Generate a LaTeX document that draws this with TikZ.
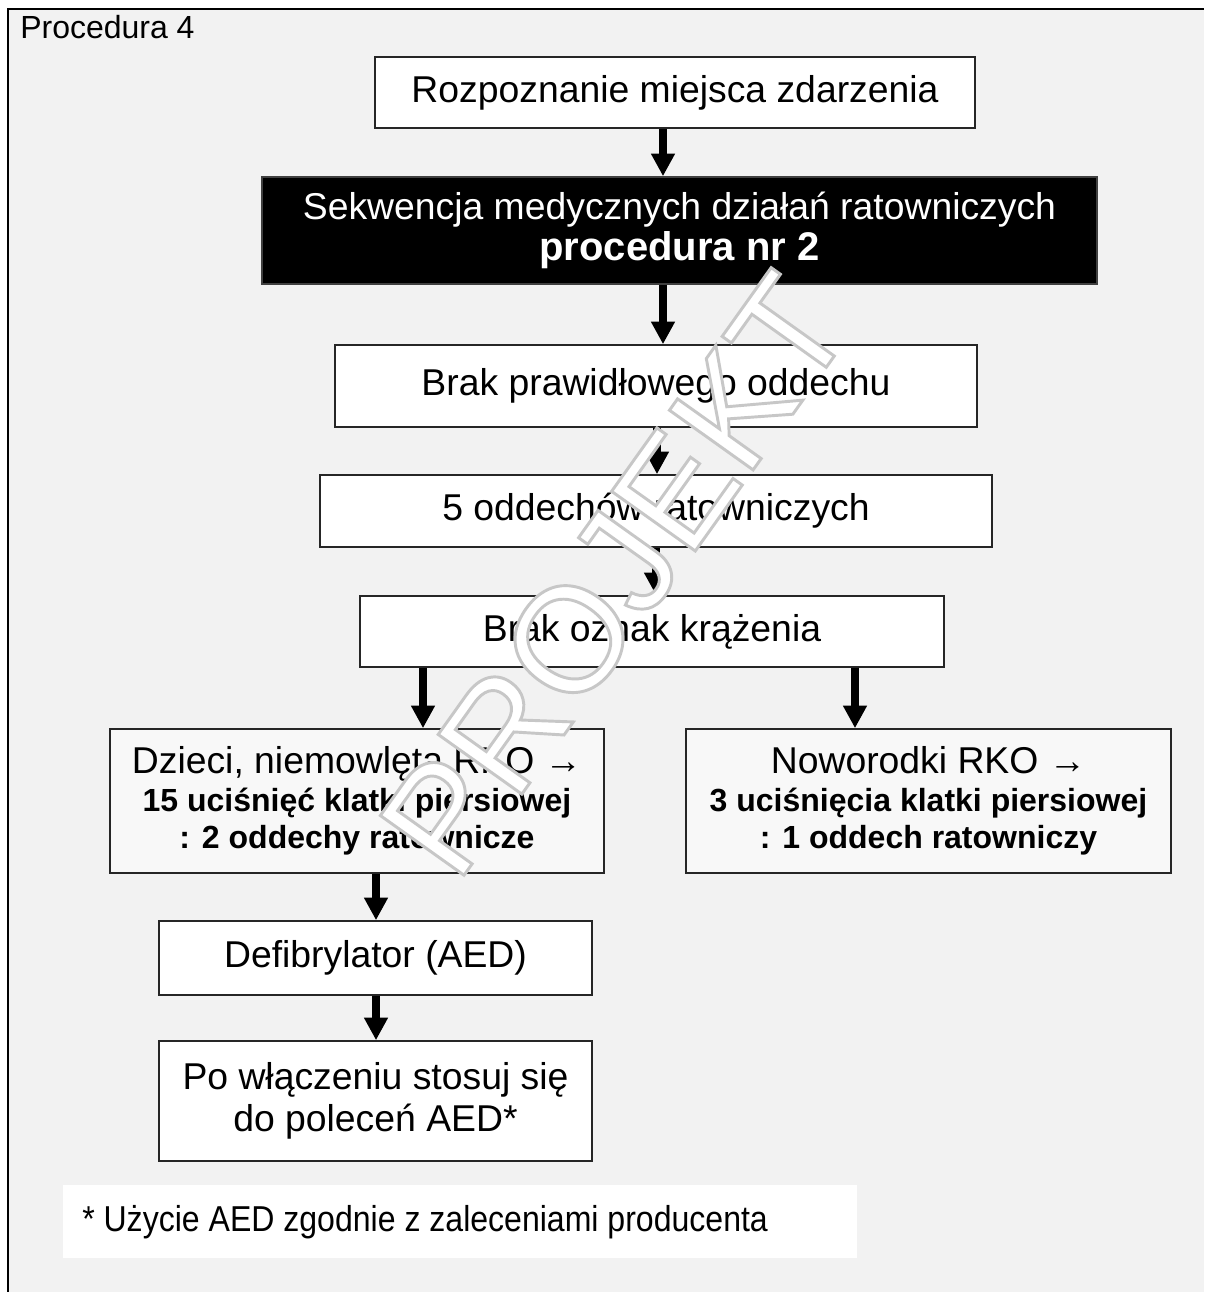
\documentclass[tikz,border=0pt]{standalone}
\usepackage{fontspec}
\setmainfont{Liberation Sans}
\newfontfamily\narrowfont[FakeStretch=0.89]{Liberation Sans}
\usetikzlibrary{arrows.meta}
\definecolor{bg}{HTML}{F2F2F2}
\definecolor{lightbox}{HTML}{F8F8F8}
\begin{document}
\begin{tikzpicture}[x=0.75pt,y=-0.75pt,
  box/.style={draw=black!85, line width=1.2pt, fill=white, inner sep=0pt, align=center,
    font=\fontsize{28pt}{31pt}\selectfont},
  arr/.style={line width=6pt, -{Triangle[length=17pt,width=17pt]}},
]
\useasboundingbox (0,0) rectangle (1204,1292);
\fill[bg] (8,9) rectangle (1204,1292);
\draw[line width=1.5pt] (8,1292) -- (8,9) -- (1204,9);

\node[anchor=base west, inner sep=0pt, font=\fontsize{24pt}{28pt}\selectfont] (title) at (20,38) {Procedura 4};

\node[box, minimum width=450pt, minimum height=53.25pt] (b1) at (675,92.5) {Rozpoznanie miejsca zdarzenia};
\node[box, fill=black, draw=black!75, text=white, minimum width=626.25pt, minimum height=80.25pt] (b2) at (679.5,230.5)
  {Sekwencja medycznych działań ratowniczych\\{\bfseries\fontsize{30pt}{31pt}\selectfont procedura nr 2}};
\node[box, minimum width=481.5pt, minimum height=61.5pt] (b3) at (656,386) {Brak prawidłowego oddechu};
\node[box, minimum width=504pt, minimum height=54pt] (b4) at (656,511) {5 oddechów ratowniczych};
\node[box, minimum width=438pt, minimum height=53.25pt] (b5) at (652,631.5) {Brak oznak krążenia};
\node[box, fill=lightbox, minimum width=370.5pt, minimum height=108pt, font=\fontsize{28pt}{28pt}\selectfont] (b6) at (357,801)
  {Dzieci, niemowlęta RKO →\\{\bfseries\fontsize{24pt}{28pt}\selectfont 15 uciśnięć klatki piersiowej}\\{\bfseries\fontsize{24pt}{28pt}\selectfont : 2 oddechy ratownicze}};
\node[box, fill=lightbox, minimum width=363.75pt, minimum height=108pt, font=\fontsize{28pt}{28pt}\selectfont] (b7) at (928.5,801)
  {Noworodki RKO →\\{\bfseries\fontsize{24pt}{28pt}\selectfont 3 uciśnięcia klatki piersiowej}\\{\bfseries\fontsize{24pt}{28pt}\selectfont : 1 oddech ratowniczy}};
\node[box, minimum width=324.75pt, minimum height=55.5pt] (b8) at (375.5,958) {Defibrylator (AED)};
\node[box, minimum width=324.75pt, minimum height=90pt, font=\fontsize{28pt}{32pt}\selectfont] (b9) at (375.5,1101)
  {Po włączeniu stosuj się\\do poleceń AED*};

\fill[white] (63,1185) rectangle (857,1258);
\node[anchor=base west, inner sep=0pt, font=\narrowfont\fontsize{27pt}{30pt}\selectfont] (note) at (82,1231)
  {* Użycie AED zgodnie z zaleceniami producenta};

\coordinate (x1) at (663,0);
\coordinate (x2) at (657,0);
\coordinate (x3) at (656,0);
\coordinate (xl) at (423,0);
\coordinate (xr) at (855,0);
\coordinate (xd) at (376,0);
\draw[arr] (b1.south -| x1) -- (b2.north -| x1);
\draw[arr] (b2.south -| x1) -- (b3.north -| x1);
\draw[arr] (b3.south -| x2) -- (b4.north -| x2);
\draw[arr] (b4.south -| x3) -- (b5.north -| x3);
\draw[arr] (b5.south -| xl) -- (b6.north -| xl);
\draw[arr] (b5.south -| xr) -- (b7.north -| xr);
\draw[arr] (b6.south -| xd) -- (b8.north -| xd);
\draw[arr] (b8.south -| xd) -- (b9.north -| xd);

\begin{scope}
\pgfsetlinewidth{2.2pt}
\node[rotate=54.5, text=white, inner sep=0pt, font=\fontsize{112pt}{112pt}\selectfont] (wm) at (615,575)
  {\special{pdf:literal direct 2 Tr 0.78 0.78 0.78 RG}PROJEKT\special{pdf:literal direct 0 Tr}};
\end{scope}
\end{tikzpicture}
\end{document}
